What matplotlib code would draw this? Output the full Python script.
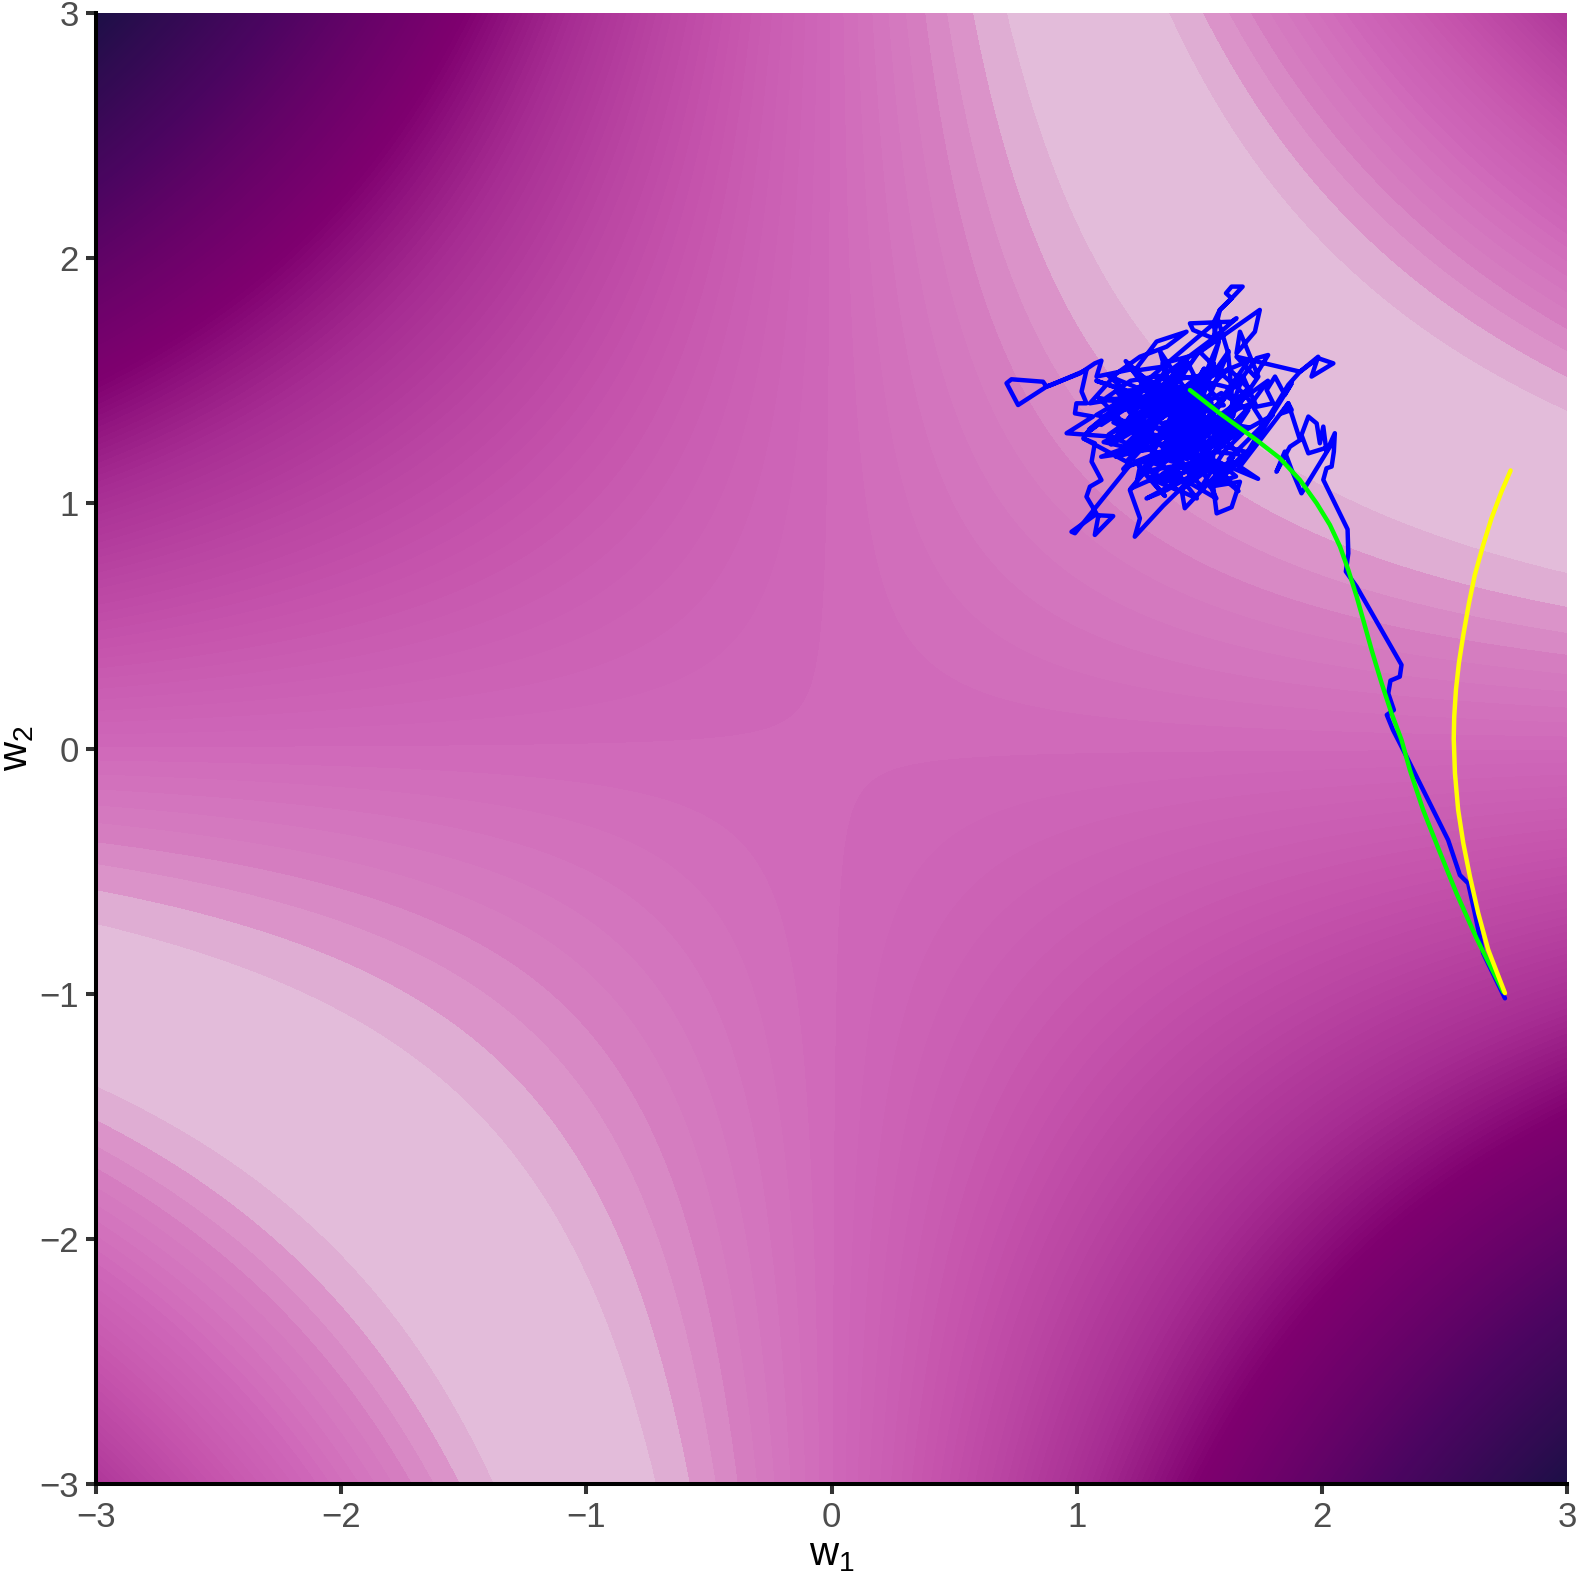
import numpy as np
import matplotlib
matplotlib.use('Agg')
import matplotlib.pyplot as plt
from matplotlib.colors import LinearSegmentedColormap

plt.rcParams['font.family'] = ['Liberation Sans', 'DejaVu Sans']
plt.rcParams['mathtext.fontset'] = 'custom'
plt.rcParams['mathtext.rm'] = 'Liberation Sans'

loss_target = 3.14
loss_levels = np.arange(0, 151, 1)
grid_w = np.linspace(-3, 3, 1201)

# colour stops by loss value
stop_values = [0, 1.5, 2.5, 4.5, 9.5, 10.5, 20, 40, 58, 100, 150]
stop_colors = ['#e4c2dd', '#dfadd3', '#db93c9', '#d57cc0', '#d06aba', '#ce66b8',
               '#c452ab', '#a62c92', '#7f006f', '#4a0560', '#1a1045']

ticks = [-3, -2, -1, 0, 1, 2, 3]

yellow_path = [(2.747, -0.998), (2.679, -0.822), (2.638, -0.672), (2.604, -0.522),
               (2.577, -0.386), (2.556, -0.250), (2.543, -0.101), (2.538, 0.040),
               (2.540, 0.130), (2.547, 0.239), (2.559, 0.348), (2.577, 0.463),
               (2.600, 0.592), (2.624, 0.708), (2.658, 0.830), (2.692, 0.939),
               (2.733, 1.048), (2.770, 1.134)]

green_path = [(2.740, -0.992), (2.631, -0.774), (2.549, -0.590), (2.475, -0.407),
              (2.413, -0.250), (2.359, -0.087), (2.325, 0.035), (2.284, 0.144),
              (2.244, 0.266), (2.203, 0.402), (2.169, 0.524), (2.142, 0.620),
              (2.108, 0.728), (2.074, 0.824), (2.033, 0.912), (1.979, 1.000),
              (1.911, 1.095), (1.829, 1.184), (1.734, 1.258), (1.584, 1.367),
              (1.462, 1.462)]

blue_path = [(2.747, -1.019), (2.658, -0.835), (2.624, -0.672), (2.597, -0.550),
             (2.563, -0.516), (2.515, -0.373), (2.332, -0.006), (2.29, 0.076), (2.265, 0.137),
             (2.294, 0.157), (2.271, 0.225), (2.280, 0.277), (2.318, 0.293),
             (2.325, 0.341), (2.142, 0.660), (2.098, 0.722), (2.108, 0.796),
             (2.105, 0.894), (2.006, 1.096), (2.019, 1.143), (2.040, 1.150),
             (2.049, 1.211), (2.053, 1.286), (2.019, 1.211), (2.006, 1.313),
             (1.992, 1.245), (1.979, 1.326), (1.945, 1.354), (1.917, 1.279),
             (1.945, 1.204), (2.033, 1.231), (1.917, 1.041), (1.877, 1.136),
             (1.849, 1.211), (1.815, 1.129), (1.870, 1.231), (1.911, 1.258),
             (1.863, 1.408), (1.836, 1.367), (1.877, 1.381), (1.863, 1.408),
             (1.666, 1.150), (1.877, 1.490), (1.849, 1.442), (1.809, 1.517),
             (1.775, 1.462), (1.802, 1.408), (1.734, 1.394), (1.679, 1.517),
             (1.734, 1.592), (1.781, 1.605), (1.727, 1.517), (1.652, 1.598),
             (1.911, 1.537), (1.985, 1.598), (1.958, 1.517), (2.047, 1.571),
             (1.985, 1.592), (1.911, 1.537), (1.863, 1.483), (1.693, 1.204),
             (1.557, 1.068), (1.571, 0.959), (1.632, 0.984), (1.666, 1.088),
             (1.543, 1.068), (1.639, 1.190), (1.441, 0.980), (1.428, 1.054),
             (1.530, 1.150), (1.367, 1.054), (1.285, 1.020), (1.401, 1.082),
             (1.312, 1.122), (1.258, 1.150), (1.244, 1.082), (1.217, 1.054),
             (1.258, 0.939), (1.237, 0.864), (1.353, 0.990), (1.475, 1.109),
             (1.557, 1.190), (1.448, 1.272), (1.312, 1.177), (1.217, 1.156),
             (0.993, 0.878), (0.979, 0.884), (1.074, 0.952), (1.149, 0.948),
             (1.074, 0.871), (1.088, 0.946), (1.040, 1.027), (1.054, 1.068),
             (1.101, 1.095), (1.061, 1.170), (1.074, 1.245), (1.027, 1.265),
             (1.203, 1.170), (1.251, 1.224), (1.142, 1.272), (0.959, 1.286),
             (1.067, 1.354), (0.993, 1.367), (0.999, 1.408), (1.040, 1.408),
             (1.020, 1.456), (1.040, 1.544), (0.897, 1.483), (0.877, 1.476),
             (0.863, 1.496), (0.734, 1.506), (0.714, 1.490), (0.761, 1.401),
             (0.877, 1.476), (1.013, 1.530), (1.074, 1.571), (1.101, 1.582),
             (1.081, 1.517), (1.244, 1.551), (1.326, 1.660), (1.448, 1.700),
             (1.367, 1.639), (1.258, 1.598), (1.163, 1.530), (1.054, 1.408),
             (1.258, 1.442), (1.149, 1.367), (1.040, 1.286), (1.421, 1.571),
             (1.557, 1.673), (1.475, 1.707), (1.462, 1.734), (1.632, 1.741),
             (1.652, 1.755), (1.557, 1.673), (1.584, 1.789), (1.632, 1.836),
             (1.609, 1.857), (1.632, 1.884), (1.677, 1.884), (1.632, 1.836),
             (1.584, 1.789), (1.557, 1.734), (1.571, 1.673), (1.475, 1.598),
             (1.747, 1.789), (1.727, 1.700), (1.652, 1.612), (1.666, 1.700),
             (1.741, 1.517), (1.639, 1.367), (1.618, 1.612), (1.577, 1.748),
             (1.05, 1.30), (1.30, 1.49), (1.10, 1.32), (1.42, 1.53), (1.16, 1.27),
             (1.45, 1.47), (1.20, 1.46), (1.08, 1.50), (1.31, 1.42), (1.70, 1.58),
             (1.50, 1.30), (1.78, 1.50), (1.60, 1.25), (1.80, 1.36), (1.62, 1.18),
             (1.74, 1.10), (1.55, 1.18), (1.68, 1.52), (1.52, 1.33), (1.72, 1.41),
             (1.50, 1.18), (1.66, 1.05), (1.47, 1.27), (1.62, 1.62), (1.48, 1.42),
             (1.58, 1.66), (1.50, 1.38), (1.34, 1.62), (1.40, 1.40), (1.20, 1.58),
             (1.36, 1.36), (1.16, 1.46), (1.32, 1.27), (1.10, 1.19), (1.30, 1.22),
             (1.09, 1.43), (1.28, 1.39), (1.13, 1.52), (1.42, 1.40), (1.25, 1.10),
             (1.40, 1.27), (1.22, 1.06), (1.38, 1.13), (1.57, 1.02), (1.46, 1.24),
             (1.60, 1.08), (1.44, 1.36), (1.70, 1.31), (1.43, 1.29),
             (1.30, 1.50), (1.17, 1.40), (1.25, 1.46), (1.08, 1.36), (1.22, 1.33),
             (1.36, 1.44), (1.13, 1.28), (1.28, 1.36), (1.41, 1.50), (1.31, 1.30),
             (1.20, 1.24), (1.34, 1.38), (1.46, 1.49), (1.38, 1.27), (1.24, 1.29),
             (1.44, 1.40), (1.52, 1.55), (1.40, 1.35), (1.29, 1.22), (1.42, 1.18),
             (1.50, 1.31), (1.37, 1.43), (1.45, 1.58), (1.53, 1.42), (1.42, 1.30),
             (1.33, 1.16), (1.47, 1.22), (1.58, 1.33), (1.49, 1.44), (1.39, 1.24),
             (1.46, 1.12), (1.55, 1.26), (1.64, 1.36), (1.52, 1.19), (1.40, 1.10),
             (1.48, 1.33), (1.36, 1.33), (1.45, 1.25), (1.56, 1.38), (1.44, 1.46),
             (1.33, 1.25), (1.43, 1.15), (1.51, 1.07), (1.60, 1.21), (1.68, 1.29),
             (1.54, 1.33), (1.41, 1.39), (1.48, 1.27), (1.38, 1.19), (1.30, 1.10),
             (1.42, 1.05), (1.50, 1.16), (1.62, 1.26), (1.70, 1.38), (1.59, 1.45),
             (1.47, 1.37), (1.35, 1.28), (1.44, 1.21), (1.53, 1.29), (1.43, 1.34),
             (1.37, 1.38), (1.47, 1.30), (1.40, 1.22), (1.49, 1.20), (1.41, 1.28),
             (1.46, 1.35), (1.39, 1.31), (1.44, 1.27), (1.50, 1.37), (1.42, 1.42),
             (1.36, 1.22), (1.45, 1.18), (1.52, 1.24), (1.43, 1.31), (1.38, 1.36),
             (1.47, 1.25), (1.41, 1.16), (1.35, 1.12), (1.46, 1.08), (1.58, 1.17),
             (1.65, 1.11), (1.56, 1.08), (1.72, 1.23), (1.76, 1.33), (1.69, 1.44),
             (1.60, 1.52), (1.50, 1.62), (1.43, 1.52), (1.55, 1.48), (1.62, 1.55),
             (1.70, 1.47), (1.64, 1.41), (1.57, 1.31), (1.46, 1.41), (1.34, 1.52),
             (1.22, 1.50), (1.12, 1.43), (1.27, 1.41), (1.18, 1.31), (1.31, 1.34),
             (1.14, 1.24), (1.25, 1.40), (1.12, 1.36), (1.28, 1.27), (1.16, 1.19),
             (1.32, 1.23), (1.21, 1.38), (1.35, 1.47), (1.23, 1.54), (1.37, 1.56),
             (1.30, 1.43), (1.44, 1.55), (1.33, 1.35), (1.47, 1.45), (1.56, 1.57),
             (1.48, 1.39), (1.60, 1.40), (1.51, 1.50), (1.63, 1.47), (1.55, 1.35),
             (1.66, 1.33), (1.57, 1.24), (1.69, 1.21), (1.61, 1.13), (1.51, 1.21),
             (1.62, 1.31), (1.53, 1.38), (1.41, 1.25), (1.52, 1.13), (1.38, 1.07),
             (1.49, 1.02), (1.39, 1.15), (1.27, 1.13), (1.36, 1.03), (1.24, 1.17),
             (1.34, 1.21), (1.19, 1.14), (1.30, 1.26), (1.15, 1.33), (1.27, 1.32),
             (1.11, 1.25), (1.24, 1.22), (1.38, 1.31), (1.26, 1.37), (1.39, 1.41),
             (1.29, 1.46), (1.41, 1.44), (1.50, 1.52), (1.37, 1.50), (1.46, 1.60),
             (1.35, 1.57), (1.42, 1.37), (1.33, 1.44), (1.45, 1.38), (1.54, 1.44),
             (1.44, 1.33), (1.55, 1.31), (1.47, 1.19), (1.36, 1.18), (1.49, 1.14),
             (1.59, 1.23), (1.47, 1.33), (1.35, 1.24), (1.45, 1.30), (1.32, 1.31),
             (1.43, 1.24), (1.53, 1.35), (1.40, 1.30), (1.51, 1.27), (1.39, 1.19),
             (1.30, 1.17), (1.42, 1.12), (1.54, 1.16), (1.44, 1.09), (1.33, 1.09),
             (1.45, 1.16), (1.56, 1.21), (1.66, 1.20), (1.58, 1.29), (1.47, 1.20),
             (1.37, 1.27), (1.25, 1.25), (1.36, 1.36), (1.22, 1.42), (1.35, 1.41),
             (1.46, 1.43), (1.38, 1.48), (1.52, 1.46), (1.43, 1.37), (1.56, 1.29),
             (1.46, 1.28), (1.34, 1.19), (1.44, 1.34), (1.55, 1.41), (1.41, 1.47),
             (1.48, 1.36), (1.37, 1.33), (1.49, 1.25), (1.40, 1.18), (1.28, 1.30),
             (1.39, 1.46), (1.42, 1.33)]

W1, W2 = np.meshgrid(grid_w, grid_w)
loss = (W1 * W2 - loss_target) ** 2

cmap = LinearSegmentedColormap.from_list(
    'loss', [(v / stop_values[-1], c) for v, c in zip(stop_values, stop_colors)], N=1024)

fig = plt.figure(figsize=(15.78, 15.74), dpi=100)
ax = fig.add_axes([96 / 1578, 1 - 1484 / 1574, (1567 - 96) / 1578, (1484 - 13) / 1574])
ax.contourf(W1, W2, loss, levels=loss_levels, cmap=cmap, vmin=0, vmax=150)

for path, color in [(blue_path, '#0000ff'), (green_path, '#00ff00'), (yellow_path, '#ffff00')]:
    xs, ys = zip(*path)
    ax.plot(xs, ys, color=color, lw=3.2, solid_joinstyle='round', solid_capstyle='round')

ax.set_xlim(-3, 3)
ax.set_ylim(-3, 3)
ax.set_xticks(ticks)
ax.set_yticks(ticks)
ax.set_xticklabels(['\u2212' + str(-t) if t < 0 else str(t) for t in ticks])
ax.set_yticklabels(['\u2212' + str(-t) if t < 0 else str(t) for t in ticks])
ax.tick_params(length=7.5, width=2.9, color='#333333', labelcolor='#4d4d4d', labelsize=25, pad=5)
for side in ['top', 'right']:
    ax.spines[side].set_visible(False)
for side in ['left', 'bottom']:
    ax.spines[side].set_linewidth(2.9)
    ax.spines[side].set_color('black')

ax.set_xlabel(r'$\mathrm{w}_1$', fontsize=29, color='black', labelpad=1)
ax.set_ylabel(r'$\mathrm{w}_2$', fontsize=29, color='black', labelpad=2)

plt.savefig('out.png', dpi=100)
plt.close()
